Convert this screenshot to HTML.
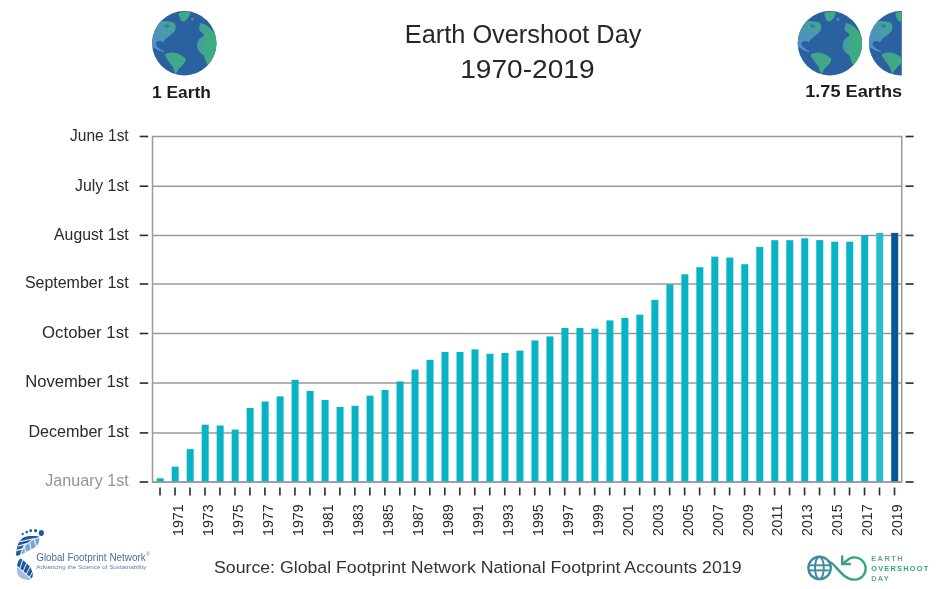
<!DOCTYPE html>
<html><head><meta charset="utf-8"><title>Earth Overshoot Day 1970-2019</title>
<style>
html,body{margin:0;padding:0;background:#fff;}
body{width:940px;height:589px;overflow:hidden;}
svg{display:block;font-family:"Liberation Sans",sans-serif;will-change:transform;}
</style></head><body>
<svg width="940" height="589" viewBox="0 0 940 589">
<defs>
<symbol id="globe" viewBox="-32.2 -32.2 64.4 64.4" overflow="visible">
  <circle r="32.2" fill="#2a61a0"/>
  <g clip-path="url(#gc)">
    <path fill="url(#lgna)" d="M-33 -22 L-26 -21.5 C-24 -22.5 -22.5 -22.3 -21.2 -22.1 C-17.5 -21.6 -14 -21.5 -11.2 -20.9 C-9.8 -19.8 -9 -18.5 -8.7 -17.1 C-8.6 -15.4 -8.8 -13.8 -9.3 -12.1 C-10.6 -10.6 -12 -9.3 -13.7 -8.3 C-15.5 -7 -17.2 -5.8 -18.7 -4.5 C-19.8 -3.2 -20.6 -2 -21.2 -0.75 C-22.5 -2.5 -25.5 -2.8 -27.5 -1.5 C-29 0 -28.8 2 -27.3 3.3 C-25.5 5 -23.5 6.5 -20.5 7.8 L-20.5 9 C-24 8.2 -27.5 6.5 -30 4.5 L-33 4 Z"/>
    <path fill="#2f66a6" d="M-20 -18.5 C-18 -19 -15.5 -18.5 -14.5 -17 C-15 -15.5 -17 -15 -19 -15.6 Z" opacity="0.6"/>
    <path fill="url(#lgna)" d="M-5.5 -30 C-2 -31.5 3 -32 6 -30.5 C5.5 -27.5 3.5 -24.5 0.5 -22 C-1.5 -21 -3.5 -22.5 -4 -24.5 C-4.5 -26.5 -6 -28 -5.5 -30 Z"/>
    <circle cx="8.2" cy="-23.8" r="1.3" fill="url(#lgaf)"/>
    <path fill="url(#lgsa)" d="M-19 11 C-15 9 -10.5 9 -7.5 10 C-3.5 11.5 0 13.5 1.5 16 C1 19 -1 21 -3 23 C-5 25 -7 27.5 -8.5 31 C-10 29 -10.5 26 -11.5 23.5 C-13 21 -15.5 18.5 -17 16 C-18 14.5 -19.5 13 -19 11 Z"/>
    <path fill="url(#lgaf)" d="M16 -20 C19 -20 21.5 -18.5 23.5 -17 C26 -15 28.5 -13 30 -10 C32 -7 33 -3 33 0 L33 8 C31 13 29 17 26.5 20 C25 21.5 23.5 22 22.5 20.5 C21.5 18 20.5 15 19.5 12.5 C18 10.5 15.5 9.5 14 7.5 C12.5 5 12.5 2 13 -0.5 C13.5 -3 15 -5 17.5 -6 C19 -6.5 20 -8 19 -9.5 C18 -11 16 -11.5 15 -13 C14.5 -15 15 -17.5 16 -20 Z"/>
  </g>
</symbol>

<clipPath id="gc"><circle r="32.2"/></clipPath>
<linearGradient id="lgna" x1="-30" y1="0" x2="-8" y2="-20" gradientUnits="userSpaceOnUse">
  <stop offset="0" stop-color="#5090c4"/><stop offset="0.5" stop-color="#4b98b0"/><stop offset="1" stop-color="#3fab86"/>
</linearGradient>
<linearGradient id="lgsa" x1="-20" y1="0" x2="2" y2="0" gradientUnits="userSpaceOnUse">
  <stop offset="0" stop-color="#46a08f"/><stop offset="1" stop-color="#3cae80"/>
</linearGradient>
<linearGradient id="lgaf" x1="12" y1="0" x2="33" y2="0" gradientUnits="userSpaceOnUse">
  <stop offset="0" stop-color="#4a96a8"/><stop offset="0.5" stop-color="#3faa84"/><stop offset="1" stop-color="#38b07a"/>
</linearGradient>
<clipPath id="halfclip"><rect x="860" y="0" width="41.8" height="100"/></clipPath>
<linearGradient id="eod" x1="806" y1="0" x2="866" y2="0" gradientUnits="userSpaceOnUse">
  <stop offset="0" stop-color="#4680ad"/><stop offset="0.45" stop-color="#3d979a"/><stop offset="1" stop-color="#2fae72"/>
</linearGradient>
<linearGradient id="foot" x1="16" y1="530" x2="42" y2="580" gradientUnits="userSpaceOnUse">
  <stop offset="0" stop-color="#1f5c9e"/><stop offset="1" stop-color="#3b73b0"/>
</linearGradient>
</defs>
<rect width="940" height="589" fill="#fff"/>

<use href="#globe" x="152.1" y="11" width="64.4" height="64.4"/>
<use href="#globe" x="797.7" y="11" width="64.4" height="64.4"/>
<g clip-path="url(#halfclip)"><use href="#globe" x="868.9" y="11" width="64.4" height="64.4"/></g>
<text x="152.0" y="97.6" font-size="17" font-weight="bold" fill="#1e1e1e" textLength="58.8" lengthAdjust="spacingAndGlyphs">1 Earth</text>
<text x="805.2" y="97.3" font-size="17" font-weight="bold" fill="#1e1e1e" textLength="96.9" lengthAdjust="spacingAndGlyphs">1.75 Earths</text>
<text x="404.8" y="43.1" font-size="25.6" fill="#262626" textLength="236.6" lengthAdjust="spacingAndGlyphs">Earth Overshoot Day</text>
<text x="460.2" y="77.5" font-size="25.6" fill="#262626" textLength="134.4" lengthAdjust="spacingAndGlyphs">1970-2019</text>
<line x1="152.5" y1="136.5" x2="901.7" y2="136.5" stroke="#9a9a9a" stroke-width="1.5"/>
<line x1="152.5" y1="186.2" x2="901.7" y2="186.2" stroke="#9a9a9a" stroke-width="1.5"/>
<line x1="152.5" y1="235.4" x2="901.7" y2="235.4" stroke="#9a9a9a" stroke-width="1.5"/>
<line x1="152.5" y1="284.0" x2="901.7" y2="284.0" stroke="#9a9a9a" stroke-width="1.5"/>
<line x1="152.5" y1="333.5" x2="901.7" y2="333.5" stroke="#9a9a9a" stroke-width="1.5"/>
<line x1="152.5" y1="383.1" x2="901.7" y2="383.1" stroke="#9a9a9a" stroke-width="1.5"/>
<line x1="152.5" y1="432.9" x2="901.7" y2="432.9" stroke="#9a9a9a" stroke-width="1.5"/>
<line x1="152.5" y1="482.0" x2="901.7" y2="482.0" stroke="#9a9a9a" stroke-width="1.5"/>
<line x1="152.5" y1="135.75" x2="152.5" y2="482.85" stroke="#9a9a9a" stroke-width="1.5"/>
<line x1="901.7" y1="135.75" x2="901.7" y2="482.85" stroke="#9a9a9a" stroke-width="1.5"/>
<line x1="139.7" y1="136.5" x2="148.2" y2="136.5" stroke="#2e2e2e" stroke-width="1.65"/>
<line x1="905.6" y1="136.5" x2="913.6" y2="136.5" stroke="#2e2e2e" stroke-width="1.65"/>
<line x1="139.7" y1="186.2" x2="148.2" y2="186.2" stroke="#2e2e2e" stroke-width="1.65"/>
<line x1="905.6" y1="186.2" x2="913.6" y2="186.2" stroke="#2e2e2e" stroke-width="1.65"/>
<line x1="139.7" y1="235.4" x2="148.2" y2="235.4" stroke="#2e2e2e" stroke-width="1.65"/>
<line x1="905.6" y1="235.4" x2="913.6" y2="235.4" stroke="#2e2e2e" stroke-width="1.65"/>
<line x1="139.7" y1="284.0" x2="148.2" y2="284.0" stroke="#2e2e2e" stroke-width="1.65"/>
<line x1="905.6" y1="284.0" x2="913.6" y2="284.0" stroke="#2e2e2e" stroke-width="1.65"/>
<line x1="139.7" y1="333.5" x2="148.2" y2="333.5" stroke="#2e2e2e" stroke-width="1.65"/>
<line x1="905.6" y1="333.5" x2="913.6" y2="333.5" stroke="#2e2e2e" stroke-width="1.65"/>
<line x1="139.7" y1="383.1" x2="148.2" y2="383.1" stroke="#2e2e2e" stroke-width="1.65"/>
<line x1="905.6" y1="383.1" x2="913.6" y2="383.1" stroke="#2e2e2e" stroke-width="1.65"/>
<line x1="139.7" y1="432.9" x2="148.2" y2="432.9" stroke="#2e2e2e" stroke-width="1.65"/>
<line x1="905.6" y1="432.9" x2="913.6" y2="432.9" stroke="#2e2e2e" stroke-width="1.65"/>
<line x1="139.7" y1="482.0" x2="148.2" y2="482.0" stroke="#2e2e2e" stroke-width="1.65"/>
<line x1="905.6" y1="482.0" x2="913.6" y2="482.0" stroke="#2e2e2e" stroke-width="1.65"/>
<text x="70.1" y="140.8" font-size="16.8" fill="#2a2a2a" textLength="58.6" lengthAdjust="spacingAndGlyphs">June 1st</text>
<text x="75.1" y="190.5" font-size="16.8" fill="#2a2a2a" textLength="53.6" lengthAdjust="spacingAndGlyphs">July 1st</text>
<text x="54.1" y="239.7" font-size="16.8" fill="#2a2a2a" textLength="74.6" lengthAdjust="spacingAndGlyphs">August 1st</text>
<text x="24.9" y="288.3" font-size="16.8" fill="#2a2a2a" textLength="103.8" lengthAdjust="spacingAndGlyphs">September 1st</text>
<text x="42.1" y="337.8" font-size="16.8" fill="#2a2a2a" textLength="86.6" lengthAdjust="spacingAndGlyphs">October 1st</text>
<text x="25.2" y="387.4" font-size="16.8" fill="#2a2a2a" textLength="103.5" lengthAdjust="spacingAndGlyphs">November 1st</text>
<text x="28.4" y="437.2" font-size="16.8" fill="#2a2a2a" textLength="100.3" lengthAdjust="spacingAndGlyphs">December 1st</text>
<text x="45.3" y="486.3" font-size="16.8" fill="#939393" textLength="83.4" lengthAdjust="spacingAndGlyphs">January 1st</text>
<rect x="156.70" y="478.3" width="7.0" height="3.8" fill="#08b4c3"/>
<rect x="171.69" y="466.7" width="7.0" height="15.4" fill="#08b4c3"/>
<rect x="186.68" y="449.1" width="7.0" height="33.0" fill="#08b4c3"/>
<rect x="201.67" y="424.7" width="7.0" height="57.4" fill="#08b4c3"/>
<rect x="216.66" y="425.5" width="7.0" height="56.6" fill="#08b4c3"/>
<rect x="231.65" y="429.6" width="7.0" height="52.5" fill="#08b4c3"/>
<rect x="246.64" y="408.0" width="7.0" height="74.1" fill="#08b4c3"/>
<rect x="261.63" y="401.5" width="7.0" height="80.6" fill="#08b4c3"/>
<rect x="276.62" y="396.4" width="7.0" height="85.7" fill="#08b4c3"/>
<rect x="291.61" y="379.8" width="7.0" height="102.3" fill="#08b4c3"/>
<rect x="306.60" y="390.9" width="7.0" height="91.2" fill="#08b4c3"/>
<rect x="321.59" y="399.9" width="7.0" height="82.2" fill="#08b4c3"/>
<rect x="336.58" y="407.0" width="7.0" height="75.1" fill="#08b4c3"/>
<rect x="351.57" y="405.8" width="7.0" height="76.3" fill="#08b4c3"/>
<rect x="366.56" y="395.7" width="7.0" height="86.4" fill="#08b4c3"/>
<rect x="381.55" y="390.0" width="7.0" height="92.1" fill="#08b4c3"/>
<rect x="396.54" y="381.4" width="7.0" height="100.7" fill="#08b4c3"/>
<rect x="411.53" y="369.6" width="7.0" height="112.5" fill="#08b4c3"/>
<rect x="426.52" y="359.8" width="7.0" height="122.3" fill="#08b4c3"/>
<rect x="441.51" y="351.9" width="7.0" height="130.2" fill="#08b4c3"/>
<rect x="456.50" y="351.9" width="7.0" height="130.2" fill="#08b4c3"/>
<rect x="471.49" y="349.4" width="7.0" height="132.7" fill="#08b4c3"/>
<rect x="486.48" y="353.8" width="7.0" height="128.3" fill="#08b4c3"/>
<rect x="501.47" y="353.0" width="7.0" height="129.1" fill="#08b4c3"/>
<rect x="516.46" y="350.6" width="7.0" height="131.5" fill="#08b4c3"/>
<rect x="531.45" y="340.4" width="7.0" height="141.7" fill="#08b4c3"/>
<rect x="546.44" y="336.4" width="7.0" height="145.7" fill="#08b4c3"/>
<rect x="561.43" y="328.0" width="7.0" height="154.1" fill="#08b4c3"/>
<rect x="576.42" y="328.0" width="7.0" height="154.1" fill="#08b4c3"/>
<rect x="591.41" y="328.7" width="7.0" height="153.4" fill="#08b4c3"/>
<rect x="606.40" y="320.4" width="7.0" height="161.7" fill="#08b4c3"/>
<rect x="621.39" y="317.9" width="7.0" height="164.2" fill="#08b4c3"/>
<rect x="636.38" y="314.7" width="7.0" height="167.4" fill="#08b4c3"/>
<rect x="651.37" y="299.8" width="7.0" height="182.3" fill="#08b4c3"/>
<rect x="666.36" y="284.4" width="7.0" height="197.7" fill="#08b4c3"/>
<rect x="681.35" y="274.3" width="7.0" height="207.8" fill="#08b4c3"/>
<rect x="696.34" y="267.2" width="7.0" height="214.9" fill="#08b4c3"/>
<rect x="711.33" y="256.6" width="7.0" height="225.5" fill="#08b4c3"/>
<rect x="726.32" y="257.6" width="7.0" height="224.5" fill="#08b4c3"/>
<rect x="741.31" y="264.2" width="7.0" height="217.9" fill="#08b4c3"/>
<rect x="756.30" y="246.9" width="7.0" height="235.2" fill="#08b4c3"/>
<rect x="771.29" y="240.2" width="7.0" height="241.9" fill="#08b4c3"/>
<rect x="786.28" y="240.2" width="7.0" height="241.9" fill="#08b4c3"/>
<rect x="801.27" y="238.3" width="7.0" height="243.8" fill="#08b4c3"/>
<rect x="816.26" y="240.1" width="7.0" height="242.0" fill="#08b4c3"/>
<rect x="831.25" y="241.7" width="7.0" height="240.4" fill="#08b4c3"/>
<rect x="846.24" y="241.7" width="7.0" height="240.4" fill="#08b4c3"/>
<rect x="861.23" y="235.2" width="7.0" height="246.9" fill="#08b4c3"/>
<rect x="876.22" y="232.9" width="7.0" height="249.2" fill="#28bdc7"/>
<rect x="891.21" y="232.9" width="7.0" height="249.2" fill="#06569a"/>
<line x1="152.5" y1="482.1" x2="901.7" y2="482.1" stroke="#9a9a9a" stroke-width="1.5"/>
<line x1="160.00" y1="487.5" x2="160.00" y2="495.4" stroke="#2e2e2e" stroke-width="1.65"/>
<line x1="174.99" y1="487.5" x2="174.99" y2="495.4" stroke="#2e2e2e" stroke-width="1.65"/>
<line x1="189.98" y1="487.5" x2="189.98" y2="495.4" stroke="#2e2e2e" stroke-width="1.65"/>
<line x1="204.97" y1="487.5" x2="204.97" y2="495.4" stroke="#2e2e2e" stroke-width="1.65"/>
<line x1="219.96" y1="487.5" x2="219.96" y2="495.4" stroke="#2e2e2e" stroke-width="1.65"/>
<line x1="234.95" y1="487.5" x2="234.95" y2="495.4" stroke="#2e2e2e" stroke-width="1.65"/>
<line x1="249.94" y1="487.5" x2="249.94" y2="495.4" stroke="#2e2e2e" stroke-width="1.65"/>
<line x1="264.93" y1="487.5" x2="264.93" y2="495.4" stroke="#2e2e2e" stroke-width="1.65"/>
<line x1="279.92" y1="487.5" x2="279.92" y2="495.4" stroke="#2e2e2e" stroke-width="1.65"/>
<line x1="294.91" y1="487.5" x2="294.91" y2="495.4" stroke="#2e2e2e" stroke-width="1.65"/>
<line x1="309.90" y1="487.5" x2="309.90" y2="495.4" stroke="#2e2e2e" stroke-width="1.65"/>
<line x1="324.89" y1="487.5" x2="324.89" y2="495.4" stroke="#2e2e2e" stroke-width="1.65"/>
<line x1="339.88" y1="487.5" x2="339.88" y2="495.4" stroke="#2e2e2e" stroke-width="1.65"/>
<line x1="354.87" y1="487.5" x2="354.87" y2="495.4" stroke="#2e2e2e" stroke-width="1.65"/>
<line x1="369.86" y1="487.5" x2="369.86" y2="495.4" stroke="#2e2e2e" stroke-width="1.65"/>
<line x1="384.85" y1="487.5" x2="384.85" y2="495.4" stroke="#2e2e2e" stroke-width="1.65"/>
<line x1="399.84" y1="487.5" x2="399.84" y2="495.4" stroke="#2e2e2e" stroke-width="1.65"/>
<line x1="414.83" y1="487.5" x2="414.83" y2="495.4" stroke="#2e2e2e" stroke-width="1.65"/>
<line x1="429.82" y1="487.5" x2="429.82" y2="495.4" stroke="#2e2e2e" stroke-width="1.65"/>
<line x1="444.81" y1="487.5" x2="444.81" y2="495.4" stroke="#2e2e2e" stroke-width="1.65"/>
<line x1="459.80" y1="487.5" x2="459.80" y2="495.4" stroke="#2e2e2e" stroke-width="1.65"/>
<line x1="474.79" y1="487.5" x2="474.79" y2="495.4" stroke="#2e2e2e" stroke-width="1.65"/>
<line x1="489.78" y1="487.5" x2="489.78" y2="495.4" stroke="#2e2e2e" stroke-width="1.65"/>
<line x1="504.77" y1="487.5" x2="504.77" y2="495.4" stroke="#2e2e2e" stroke-width="1.65"/>
<line x1="519.76" y1="487.5" x2="519.76" y2="495.4" stroke="#2e2e2e" stroke-width="1.65"/>
<line x1="534.75" y1="487.5" x2="534.75" y2="495.4" stroke="#2e2e2e" stroke-width="1.65"/>
<line x1="549.74" y1="487.5" x2="549.74" y2="495.4" stroke="#2e2e2e" stroke-width="1.65"/>
<line x1="564.73" y1="487.5" x2="564.73" y2="495.4" stroke="#2e2e2e" stroke-width="1.65"/>
<line x1="579.72" y1="487.5" x2="579.72" y2="495.4" stroke="#2e2e2e" stroke-width="1.65"/>
<line x1="594.71" y1="487.5" x2="594.71" y2="495.4" stroke="#2e2e2e" stroke-width="1.65"/>
<line x1="609.70" y1="487.5" x2="609.70" y2="495.4" stroke="#2e2e2e" stroke-width="1.65"/>
<line x1="624.69" y1="487.5" x2="624.69" y2="495.4" stroke="#2e2e2e" stroke-width="1.65"/>
<line x1="639.68" y1="487.5" x2="639.68" y2="495.4" stroke="#2e2e2e" stroke-width="1.65"/>
<line x1="654.67" y1="487.5" x2="654.67" y2="495.4" stroke="#2e2e2e" stroke-width="1.65"/>
<line x1="669.66" y1="487.5" x2="669.66" y2="495.4" stroke="#2e2e2e" stroke-width="1.65"/>
<line x1="684.65" y1="487.5" x2="684.65" y2="495.4" stroke="#2e2e2e" stroke-width="1.65"/>
<line x1="699.64" y1="487.5" x2="699.64" y2="495.4" stroke="#2e2e2e" stroke-width="1.65"/>
<line x1="714.63" y1="487.5" x2="714.63" y2="495.4" stroke="#2e2e2e" stroke-width="1.65"/>
<line x1="729.62" y1="487.5" x2="729.62" y2="495.4" stroke="#2e2e2e" stroke-width="1.65"/>
<line x1="744.61" y1="487.5" x2="744.61" y2="495.4" stroke="#2e2e2e" stroke-width="1.65"/>
<line x1="759.60" y1="487.5" x2="759.60" y2="495.4" stroke="#2e2e2e" stroke-width="1.65"/>
<line x1="774.59" y1="487.5" x2="774.59" y2="495.4" stroke="#2e2e2e" stroke-width="1.65"/>
<line x1="789.58" y1="487.5" x2="789.58" y2="495.4" stroke="#2e2e2e" stroke-width="1.65"/>
<line x1="804.57" y1="487.5" x2="804.57" y2="495.4" stroke="#2e2e2e" stroke-width="1.65"/>
<line x1="819.56" y1="487.5" x2="819.56" y2="495.4" stroke="#2e2e2e" stroke-width="1.65"/>
<line x1="834.55" y1="487.5" x2="834.55" y2="495.4" stroke="#2e2e2e" stroke-width="1.65"/>
<line x1="849.54" y1="487.5" x2="849.54" y2="495.4" stroke="#2e2e2e" stroke-width="1.65"/>
<line x1="864.53" y1="487.5" x2="864.53" y2="495.4" stroke="#2e2e2e" stroke-width="1.65"/>
<line x1="879.52" y1="487.5" x2="879.52" y2="495.4" stroke="#2e2e2e" stroke-width="1.65"/>
<line x1="894.51" y1="487.5" x2="894.51" y2="495.4" stroke="#2e2e2e" stroke-width="1.65"/>
<text transform="translate(182.89,504.4) rotate(-90)" font-size="15.2" fill="#2a2a2a" text-anchor="end" textLength="31.6" lengthAdjust="spacingAndGlyphs">1971</text>
<text transform="translate(212.87,504.4) rotate(-90)" font-size="15.2" fill="#2a2a2a" text-anchor="end" textLength="31.6" lengthAdjust="spacingAndGlyphs">1973</text>
<text transform="translate(242.85,504.4) rotate(-90)" font-size="15.2" fill="#2a2a2a" text-anchor="end" textLength="31.6" lengthAdjust="spacingAndGlyphs">1975</text>
<text transform="translate(272.83,504.4) rotate(-90)" font-size="15.2" fill="#2a2a2a" text-anchor="end" textLength="31.6" lengthAdjust="spacingAndGlyphs">1977</text>
<text transform="translate(302.81,504.4) rotate(-90)" font-size="15.2" fill="#2a2a2a" text-anchor="end" textLength="31.6" lengthAdjust="spacingAndGlyphs">1979</text>
<text transform="translate(332.79,504.4) rotate(-90)" font-size="15.2" fill="#2a2a2a" text-anchor="end" textLength="31.6" lengthAdjust="spacingAndGlyphs">1981</text>
<text transform="translate(362.77,504.4) rotate(-90)" font-size="15.2" fill="#2a2a2a" text-anchor="end" textLength="31.6" lengthAdjust="spacingAndGlyphs">1983</text>
<text transform="translate(392.75,504.4) rotate(-90)" font-size="15.2" fill="#2a2a2a" text-anchor="end" textLength="31.6" lengthAdjust="spacingAndGlyphs">1985</text>
<text transform="translate(422.73,504.4) rotate(-90)" font-size="15.2" fill="#2a2a2a" text-anchor="end" textLength="31.6" lengthAdjust="spacingAndGlyphs">1987</text>
<text transform="translate(452.71,504.4) rotate(-90)" font-size="15.2" fill="#2a2a2a" text-anchor="end" textLength="31.6" lengthAdjust="spacingAndGlyphs">1989</text>
<text transform="translate(482.69,504.4) rotate(-90)" font-size="15.2" fill="#2a2a2a" text-anchor="end" textLength="31.6" lengthAdjust="spacingAndGlyphs">1991</text>
<text transform="translate(512.67,504.4) rotate(-90)" font-size="15.2" fill="#2a2a2a" text-anchor="end" textLength="31.6" lengthAdjust="spacingAndGlyphs">1993</text>
<text transform="translate(542.65,504.4) rotate(-90)" font-size="15.2" fill="#2a2a2a" text-anchor="end" textLength="31.6" lengthAdjust="spacingAndGlyphs">1995</text>
<text transform="translate(572.63,504.4) rotate(-90)" font-size="15.2" fill="#2a2a2a" text-anchor="end" textLength="31.6" lengthAdjust="spacingAndGlyphs">1997</text>
<text transform="translate(602.61,504.4) rotate(-90)" font-size="15.2" fill="#2a2a2a" text-anchor="end" textLength="31.6" lengthAdjust="spacingAndGlyphs">1999</text>
<text transform="translate(632.59,504.4) rotate(-90)" font-size="15.2" fill="#2a2a2a" text-anchor="end" textLength="31.6" lengthAdjust="spacingAndGlyphs">2001</text>
<text transform="translate(662.57,504.4) rotate(-90)" font-size="15.2" fill="#2a2a2a" text-anchor="end" textLength="31.6" lengthAdjust="spacingAndGlyphs">2003</text>
<text transform="translate(692.55,504.4) rotate(-90)" font-size="15.2" fill="#2a2a2a" text-anchor="end" textLength="31.6" lengthAdjust="spacingAndGlyphs">2005</text>
<text transform="translate(722.53,504.4) rotate(-90)" font-size="15.2" fill="#2a2a2a" text-anchor="end" textLength="31.6" lengthAdjust="spacingAndGlyphs">2007</text>
<text transform="translate(752.51,504.4) rotate(-90)" font-size="15.2" fill="#2a2a2a" text-anchor="end" textLength="31.6" lengthAdjust="spacingAndGlyphs">2009</text>
<text transform="translate(782.49,504.4) rotate(-90)" font-size="15.2" fill="#2a2a2a" text-anchor="end" textLength="31.6" lengthAdjust="spacingAndGlyphs">2011</text>
<text transform="translate(812.47,504.4) rotate(-90)" font-size="15.2" fill="#2a2a2a" text-anchor="end" textLength="31.6" lengthAdjust="spacingAndGlyphs">2013</text>
<text transform="translate(842.45,504.4) rotate(-90)" font-size="15.2" fill="#2a2a2a" text-anchor="end" textLength="31.6" lengthAdjust="spacingAndGlyphs">2015</text>
<text transform="translate(872.43,504.4) rotate(-90)" font-size="15.2" fill="#2a2a2a" text-anchor="end" textLength="31.6" lengthAdjust="spacingAndGlyphs">2017</text>
<text transform="translate(902.41,504.4) rotate(-90)" font-size="15.2" fill="#2a2a2a" text-anchor="end" textLength="31.6" lengthAdjust="spacingAndGlyphs">2019</text>
<text x="214.0" y="572.8" font-size="17.2" fill="#333" textLength="527.5" lengthAdjust="spacingAndGlyphs">Source: Global Footprint Network National Footprint Accounts 2019</text>
<g>
<defs>
<clipPath id="fupper"><path d="M17.2 556 C16 555 16 554 16.3 552.9 C16.6 550.5 17 548.5 17.5 546.2 C18.1 544.4 18.9 542.7 19.9 541.3 C20.6 540.2 21.4 539.1 22.4 538.2 C24 537.2 25.5 536.6 27.3 536.4 C29.4 536.1 31.4 536 33.4 536.1 C35 536.1 36.7 536.2 38.3 536.4 C39.2 537.5 39.4 538.8 39.3 540.2 C39.2 541.6 38.9 542.7 38.3 543.7 C37.8 544.7 37.2 545.5 36.4 546.2 C34.5 547.6 32.5 548.8 30.3 549.8 C28.3 550.9 26.3 551.9 24.2 552.9 C22.6 553.8 21 554.6 19.3 555.3 C18.6 555.6 17.9 555.9 17.2 556 Z"/></clipPath>
<clipPath id="flower"><path d="M20.2 558.4 C26 561.8 31.6 567 32.6 573.4 C33.1 577 31.6 579.6 28.6 579.9 C24 580.1 20 578.6 18 575 C16 571 16.2 563 20.2 558.4 Z"/></clipPath>
</defs>
<ellipse cx="41.3" cy="533" rx="2.6" ry="2.9" fill="#1d5a9b"/>
<circle cx="35.6" cy="530.7" r="1.6" fill="#1d5a9b"/>
<circle cx="30.7" cy="530.7" r="1.45" fill="#1d5a9b"/>
<circle cx="26.7" cy="532.1" r="1.3" fill="#1d5a9b"/>
<circle cx="22.7" cy="534.0" r="1.15" fill="#1d5a9b"/>
<g clip-path="url(#fupper)">
  <rect x="14" y="534" width="28" height="24" fill="#7aa2d2"/>
  <path d="M14 557 L20.5 554.5 L23.8 546 L28.8 542.6 L33.2 539.2 L39.8 537.4 L39.8 530 L14 530 Z" fill="#1d5a9b"/>
  <g stroke="#f4f8fc" stroke-width="1.1" fill="none">
    <path d="M20.5 555 L23.8 546 L28.8 542.6 L33.2 539.2 L40 537.2"/>
    <path d="M19.5 541.8 L33.5 538.8"/><path d="M17.8 546.2 L27.6 543.4"/><path d="M16.5 550.6 L23.2 548.6"/>
    <path d="M24.6 546.2 L25.6 553"/><path d="M29.6 542.2 L31.2 550"/><path d="M34.2 539 L36.4 547"/>
  </g>
</g>
<g clip-path="url(#flower)">
  <rect x="14" y="556" width="22" height="26" fill="#a9bfdc"/>
  <path d="M14 563 L33.5 580 L36 570 L22 555 Z" fill="#1d5a9b"/>
  <g stroke="#f4f8fc" stroke-width="1.0" fill="none">
    <path d="M15 564.5 L32 579.5"/>
    <path d="M19.8 568.8 L22.6 560.2"/><path d="M23 571.6 L26.6 563"/><path d="M26.2 574.4 L30.2 566.6"/><path d="M29.4 577.2 L33 571.2"/>
  </g>
</g>
</g>
<text x="36.2" y="560.6" font-size="10.6" fill="#4d6c9e" textLength="109.5" lengthAdjust="spacingAndGlyphs">Global Footprint Network</text>
<text x="146.3" y="556.3" font-size="4.5" fill="#4d6c9e">&#174;</text>
<text x="36.3" y="568.7" font-size="6.1" fill="#6478ae" textLength="110" lengthAdjust="spacingAndGlyphs">Advancing the Science of Sustainability</text>
<g fill="none" stroke="url(#eod)" stroke-width="2.4" stroke-linecap="butt">
<circle cx="819.6" cy="567.9" r="11.2"/>
<ellipse cx="819.4" cy="567.9" rx="4.4" ry="11.2" stroke-width="2"/>
<line x1="809" y1="565.3" x2="830" y2="565.3" stroke-width="1.9"/>
<line x1="809" y1="570.4" x2="830" y2="570.4" stroke-width="1.9"/>
<path d="M828.5 561 C837 565 842 579.6 854.6 579.6 A11.1 11.1 0 1 0 846.5 560.8 L842.8 563.6"/>
<path d="M842.2 555.4 L842.2 564 L850.8 564"/>
</g>
<text x="871.2" y="560.9" font-size="7.4" font-weight="bold" fill="#64a98a" textLength="31.3" lengthAdjust="spacing">EARTH</text>
<text x="871.2" y="570.9" font-size="7.4" font-weight="bold" fill="#30a86f" textLength="57" lengthAdjust="spacing">OVERSHOOT</text>
<text x="871.2" y="581.1" font-size="7.4" font-weight="bold" fill="#64a98a" textLength="17.5" lengthAdjust="spacing">DAY</text>
</svg></body></html>
